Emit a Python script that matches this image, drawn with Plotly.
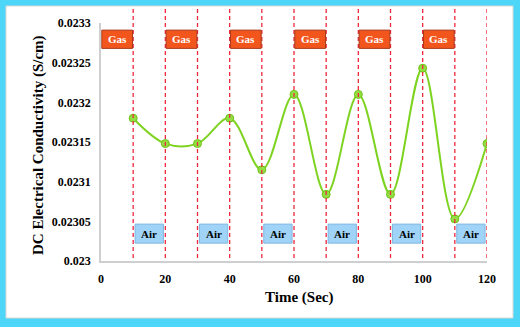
import plotly.graph_objects as go

# data
time_sec = [10, 20, 30, 40, 50, 60, 70, 80, 90, 100, 110, 120]
conductivity = [0.02318, 0.023148, 0.023148, 0.02318, 0.023115, 0.02321,
                0.023084, 0.02321, 0.023084, 0.023243, 0.023053, 0.023148]
switch_times = [10, 20, 30, 40, 50, 60, 70, 80, 90, 100, 110, 120]
gas_starts = [0, 20, 40, 60, 80, 100]
air_starts = [10, 30, 50, 70, 90, 110]
y_ticks = [0.023, 0.02305, 0.0231, 0.02315, 0.0232, 0.02325, 0.0233]
y_tick_text = ['0.023', '0.02305', '0.0231', '0.02315', '0.0232', '0.02325', '0.0233']
x_ticks = [0, 20, 40, 60, 80, 100, 120]

serif = 'Liberation Serif'

fig = go.Figure()
fig.add_trace(go.Scatter(
    x=time_sec, y=conductivity, mode='lines+markers',
    line=dict(color='#7ed321', width=2, shape='spline', smoothing=1.0),
    marker=dict(color='#93dd44', size=8, line=dict(color='#6cc417', width=1)),
    showlegend=False,
))

# plot area in pixels
L, T, W, H = 101, 23, 386, 238
def px_x(p):
    return (p - L) / W
def px_y(p):
    return (T + H - p) / H

shapes = []
# figure frame: cyan border, white inside
shapes.append(dict(type='rect', xref='paper', yref='paper', layer='below',
                   x0=px_x(6), x1=px_x(513), y0=px_y(318), y1=px_y(6),
                   fillcolor='white', line=dict(color='#d8d8d8', width=1)))

for t in switch_times:
    shapes.append(dict(type='line', xref='x', yref='paper', x0=t, x1=t,
                       y0=px_y(258), y1=px_y(8),
                       line=dict(color='#f0283c', width=1.3, dash='4px,3px')))

for g in gas_starts:
    shapes.append(dict(type='rect', xref='x', yref='y', x0=g + 0.25, x1=g + 9.8,
                       y0=0.023268, y1=0.023291, fillcolor='#f2561d',
                       line=dict(color='#a8391a', width=1)))

for a in air_starts:
    shapes.append(dict(type='rect', xref='x', yref='y', x0=a + 0.6, x1=a + 9.4,
                       y0=0.0230225, y1=0.0230465, fillcolor='#9fd3f7',
                       line=dict(color='#7fb6e0', width=1)))

annotations = [
    dict(text='<b>Time (Sec)</b>', xref='paper', yref='paper',
         x=px_x(299), y=px_y(297), showarrow=False,
         xanchor='center', yanchor='middle',
         font=dict(family=serif, size=15, color='black')),
    dict(text='<b>DC Electrical Conductivity (S/cm)</b>', xref='paper', yref='paper',
         x=px_x(38), y=px_y(145), showarrow=False, textangle=-90,
         xanchor='center', yanchor='middle',
         font=dict(family=serif, size=15, color='black')),
]
for g in gas_starts:
    annotations.append(dict(text='<b>Gas</b>', x=g + 5, y=0.0232795, showarrow=False,
                            xanchor='center', yanchor='middle',
                            font=dict(family=serif, size=11, color='white')))
for a in air_starts:
    annotations.append(dict(text='<b>Air</b>', x=a + 5, y=0.0230345, showarrow=False,
                            xanchor='center', yanchor='middle',
                            font=dict(family=serif, size=11, color='black')))

fig.update_layout(
    width=520, height=327,
    margin=dict(l=L, r=520 - L - W, t=T, b=327 - T - H, autoexpand=False),
    paper_bgcolor='#4dd6f7', plot_bgcolor='rgba(0,0,0,0)',
    shapes=shapes, annotations=annotations,
    font=dict(family=serif, color='black'),
    xaxis=dict(range=[0, 120], tickvals=x_ticks,
               ticktext=['<b>%d</b>' % v for v in x_ticks],
               showgrid=False, zeroline=False,
               showline=True, linecolor='#cfcfcf', linewidth=1.5, automargin=False,
               ticks='outside', ticklen=6, tickcolor='rgba(0,0,0,0)',
               tickfont=dict(family=serif, size=12, color='black')),
    yaxis=dict(range=[0.023, 0.0233], tickvals=y_ticks,
               ticktext=['<b>%s</b>' % s for s in y_tick_text],
               showgrid=False, zeroline=False, automargin=False,
               showline=True, linecolor='#cfcfcf', linewidth=1.5,
               ticks='outside', ticklen=6, tickcolor='rgba(0,0,0,0)',
               tickfont=dict(family=serif, size=12, color='black')),
)

# drop the browser's default page margin so the figure fills the window
fig.write_html('out.html', config={'displayModeBar': False},
               post_script="document.body.style.margin='0';")
